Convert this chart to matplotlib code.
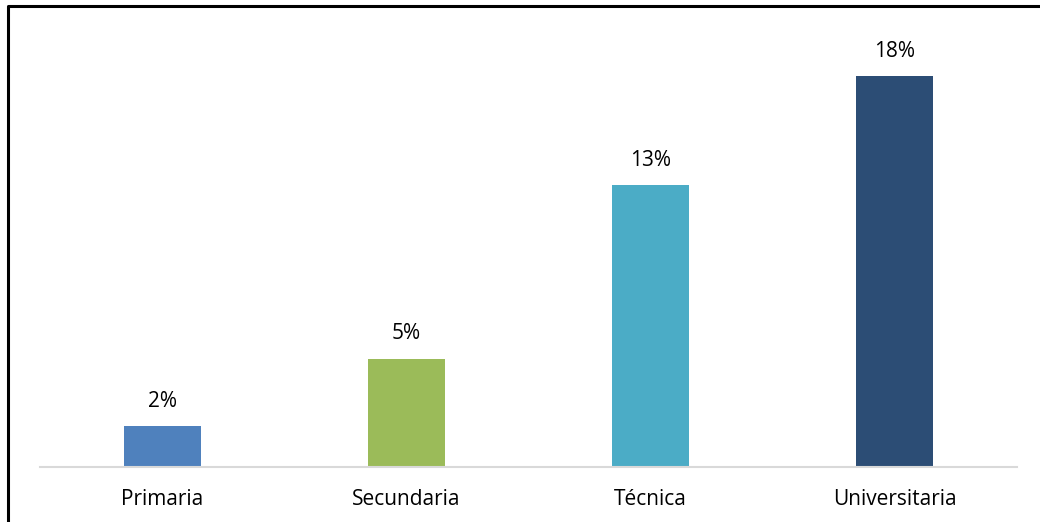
import matplotlib
matplotlib.use("Agg")
import matplotlib.pyplot as plt
from matplotlib.lines import Line2D

categories = ["Primaria", "Secundaria", "Técnica", "Universitaria"]
values = [1.9, 5.0, 13.0, 18.0]
labels = ["2%", "5%", "13%", "18%"]
colors = ["#4F81BD", "#9BBB59", "#4BACC6", "#2C4D75"]

plt.rcParams['font.family'] = ['Open Sans', 'DejaVu Sans']

fig = plt.figure(figsize=(10.4, 5.22), dpi=100)
ax = fig.add_axes([40 / 1040, 1 - 467 / 522, 977 / 1040, 434 / 522])

x = range(len(categories))
bars = ax.bar(x, values, width=0.315, color=colors, zorder=2)
for b, lab in zip(bars, labels):
    ax.text(b.get_x() + b.get_width() / 2, b.get_height() + 0.65, lab,
            ha='center', va='bottom', fontsize=15)

ax.set_xlim(-0.5, 3.5)
ax.set_ylim(0, 20)
ax.set_xticks(list(x))
ax.set_xticklabels(categories, fontsize=15)
ax.tick_params(axis='x', length=0, pad=16)
ax.set_yticks([])
for s in ['top', 'right', 'left']:
    ax.spines[s].set_visible(False)
ax.spines['bottom'].set_color('#D9D9D9')
ax.spines['bottom'].set_linewidth(1.5)

# black frame on top and left edge
fig.add_artist(Line2D([8 / 1040, 8 / 1040, 1.0], [0.0, 1 - 6 / 522, 1 - 6 / 522],
                      transform=fig.transFigure, color='black', linewidth=2.2))

fig.savefig("out.png", dpi=100)
